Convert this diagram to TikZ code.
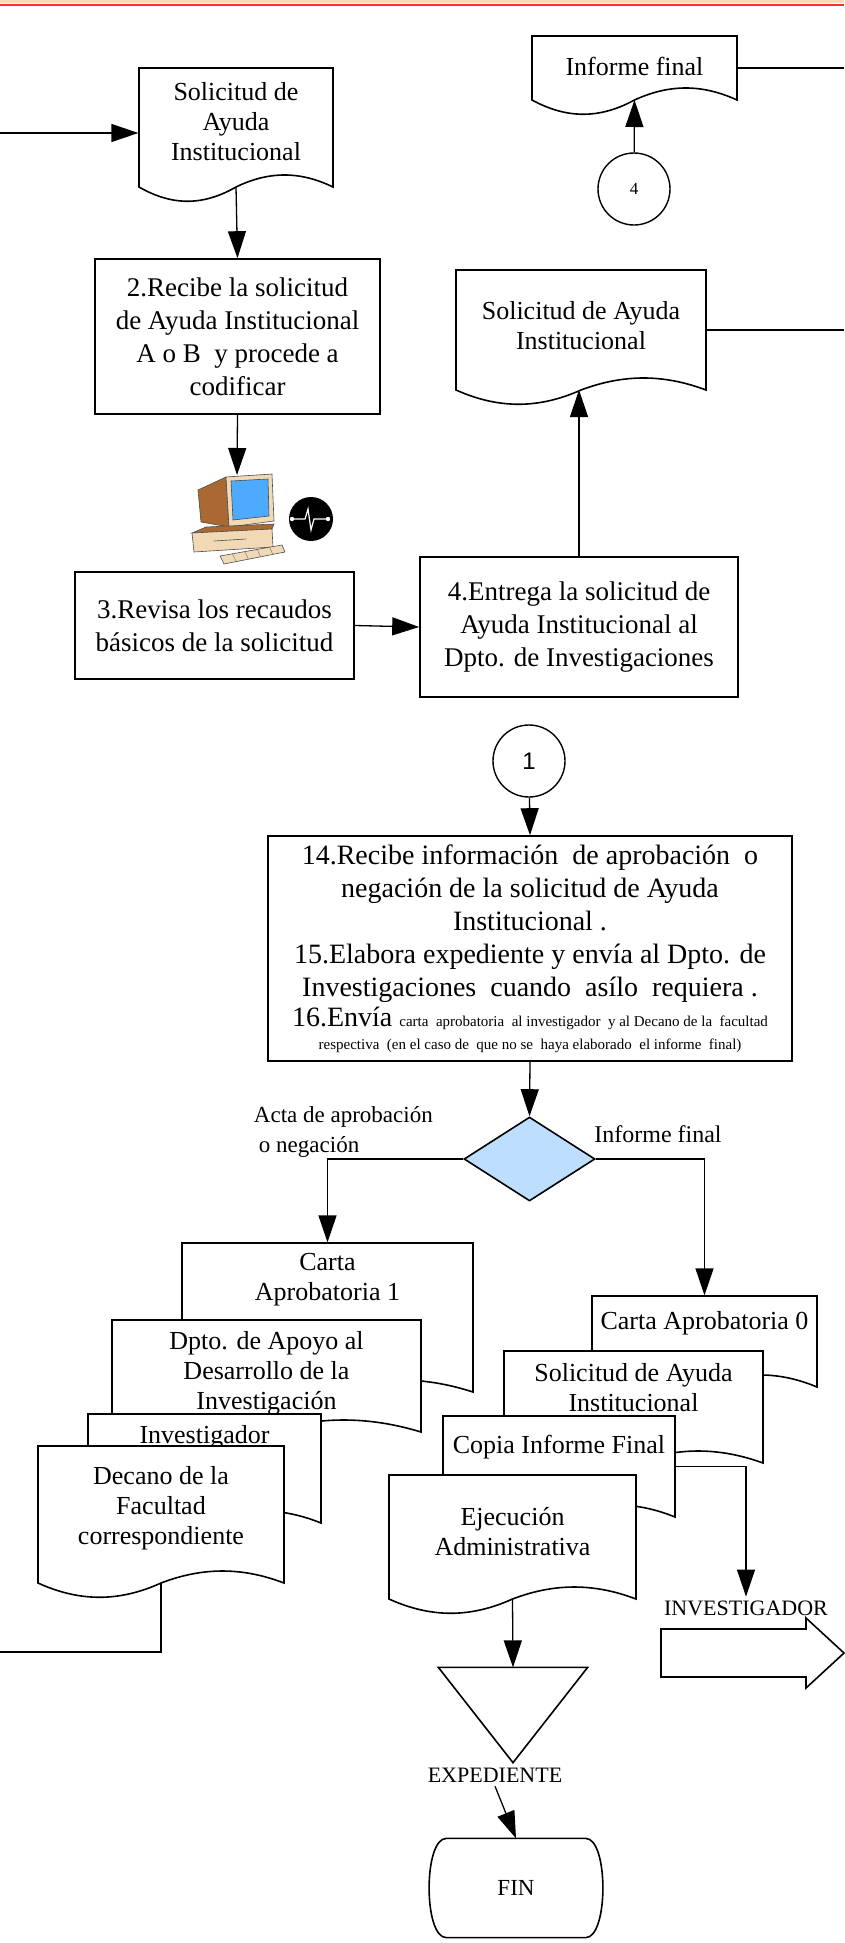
\documentclass[tikz,border=0pt]{standalone}
\usepackage{fontspec}
\setmainfont{Liberation Serif}
\newfontfamily\sansf{Liberation Sans}
\usetikzlibrary{arrows.meta,shapes.geometric,positioning,calc}

\definecolor{peach}{RGB}{255,218,178}
\definecolor{redline}{RGB}{240,50,50}
\definecolor{diafill}{RGB}{190,222,255}
\definecolor{pcbrown}{RGB}{170,105,50}
\definecolor{pcbeige}{RGB}{242,217,182}
\definecolor{pcblue}{RGB}{77,170,255}

\tikzset{
  box/.style={draw,line width=1.6pt,inner sep=0pt,align=center,font=\fontsize{27}{33}\selectfont},
  doctxt/.style={align=center,font=\fontsize{26}{30}\selectfont},
  docline/.style={draw,fill=white,line width=1.6pt},
  conn/.style={circle,draw,line width=1.4pt,minimum size=72pt,inner sep=0pt},
  >={Triangle[length=27pt,width=18pt]},
}

% document: name, x1, y1, x2, y2 (bottom of sides), text y, text
\newcommand{\docu}[7]{%
  \path[docline] (#2,#3) -- (#4,#3) -- (#4,#5)
    .. controls ({#4-0.17*(#4-#2)},{#5-16}) and ({#4-0.33*(#4-#2)},{#5-16}) .. ({(#2+#4)/2},#5)
    .. controls ({#2+0.33*(#4-#2)},{#5+19}) and ({#2+0.17*(#4-#2)},{#5+19}) .. (#2,#5) -- cycle;
  \node[inner sep=0pt,minimum width={(#4-#2)*1pt},minimum height={(#5-#3)*1pt}] (#1) at ({(#2+#4)/2},{(#3+#5)/2}) {};
  \coordinate (#1-b) at ({(#2+#4)/2},#5);
  \node[doctxt] (#1-t) at ({(#2+#4)/2},#6) {#7};
}

\begin{document}
\begin{tikzpicture}[x=1pt,y=-1pt,line width=1.3pt]
    \useasboundingbox (0,0) rectangle (844,1943);
    \fill[peach] (0,0) rectangle (844,3.5);
    \draw[redline,line width=2pt] (0,4.8) -- (844,4.8);

    % top part
    \docu{sol1}{139}{68}{333}{187}{122}{Solicitud de\\Ayuda\\Institucional}
    \docu{inf}{532}{36}{737}{100}{66}{Informe final}
    \docu{sol2}{456}{270}{706}{390}{326}{Solicitud de Ayuda\\Institucional}
    \node[conn,font=\fontsize{17}{20}\selectfont] (c4) at (634,189) {4};
    \node[box,minimum width=285pt,minimum height=155pt] (rec) at (237.5,336.5) {2.Recibe la solicitud\\de Ayuda Institucional\\A o B\ \ y procede a\\codificar};
    \node[box,minimum width=279pt,minimum height=107pt] (rev) at (214.5,625.5) {3.Revisa los recaudos\\básicos de la solicitud};
    \node[box,minimum width=318pt,minimum height=140pt] (ent) at (579,627) {4.Entrega la solicitud de\\Ayuda Institucional al\\Dpto. de Investigaciones};

    % computer
    \coordinate (pc) at (237,475);
    \filldraw[fill=pcbrown,draw=black!70,line width=0.6pt] (198,490) -- (226,477) -- (229,527) -- (201,522) -- cycle;
    \filldraw[fill=pcbeige,draw=black!70,line width=0.6pt] (226,477) -- (272,474) -- (274,521) -- (229,527) -- cycle;
    \filldraw[fill=pcblue,draw=black!70,line width=0.6pt] (231,481) -- (268,479) -- (269,516) -- (233,520) -- cycle;
    \filldraw[fill=pcbrown,draw=black!70,line width=0.6pt] (243,531) ellipse [x radius=14pt,y radius=4pt];
    \filldraw[fill=pcbrown,draw=black!70,line width=0.6pt] (192,533) -- (206,527) -- (274,524) -- (272,529) -- cycle;
    \filldraw[fill=pcbeige,draw=black!70,line width=0.6pt] (192,533) -- (272,529) -- (273,547) -- (194,552) -- cycle;
    \draw[black!70,line width=0.6pt] (214,541) -- (246,539);
    \filldraw[fill=pcbeige,draw=black!70,line width=0.6pt] (220,556) -- (282,545) -- (285,552) -- (224,564) -- cycle;
    \foreach \k in {0.2,0.4,0.6,0.8}
        \draw[black!50,line width=0.5pt] ($(220,556)!\k!(282,545)$) -- ($(224,564)!\k!(285,552)$);
    \fill (311,519) circle [radius=22pt];
    \draw[white,line width=1.2pt] (292,519) -- (305,519) -- (308,509) -- (311,530) -- (314,519) -- (328,519);
    \fill[white] (292,519) circle [radius=2.2pt] (328,519) circle [radius=2.2pt];

    % middle part
    \node[conn,font=\sansf\fontsize{24}{28}\selectfont] (c1) at (529,761) {1};
    \node[box,minimum width=524pt,minimum height=225pt,font=\fontsize{28}{33}\selectfont] (apr) at (530,948.5) {14.Recibe información\ \ de aprobación\ \ o\\negación de la solicitud de Ayuda\\Institucional .\\15.Elabora expediente y envía al Dpto. de\\Investigaciones\ \ cuando\ \ asílo\ \ requiera .\\[-3pt]16.Envía {\fontsize{15}{17}\selectfont carta\ \ aprobatoria\ \ al investigador\ \ y al Decano de la\ \ facultad}\\[-10pt]{\fontsize{15}{17}\selectfont respectiva\ \ (en el caso de\ \ que no se\ \ haya elaborado\ \ el informe\ \ final)}};
    \node[diamond,draw,fill=diafill,line width=1.6pt,minimum width=131pt,minimum height=84pt,inner sep=0pt] (dia) at (529.5,1159) {};
    \node[anchor=west,align=left,font=\fontsize{23}{30}\selectfont] (acta) at (250,1132) {Acta de aprobación\\\hspace{5pt}o negación};
    \node[font=\fontsize{24}{28}\selectfont] (inflab) at (658,1134) {Informe final};

    % bottom left documents
    \docu{ca1}{182}{1243}{473}{1392}{1280}{Carta\\Aprobatoria 1}
    \docu{dpto}{112}{1320}{421}{1432}{1373}{Dpto. de Apoyo al\\Desarrollo de la\\Investigación}
    \docu{inv}{88}{1414}{321}{1523}{1437}{Investigador}
    \docu{dcn}{38}{1446}{284}{1583}{1508}{Decano de la\\Facultad\\correspondiente}

    % bottom right documents
    \docu{ca0}{592}{1296}{817}{1387}{1323}{Carta Aprobatoria 0}
    \docu{sol3}{504}{1351}{763}{1463}{1388}{Solicitud de Ayuda\\Institucional}
    \docu{cop}{443}{1416}{675}{1517}{1447}{Copia Informe Final}
    \docu{eje}{389}{1475}{636}{1599}{1532}{Ejecución\\Administrativa}

    \node[inner sep=0pt,minimum width=148pt,minimum height=94pt] (tri) at (513,1715) {};
    \draw[line width=1.6pt] (tri.north west) -- (tri.north east) -- (tri.south) -- cycle;
    \node[font=\fontsize{22}{26}\selectfont] (exp) at (495,1775) {EXPEDIENTE};
    \node[inner sep=0pt,minimum width=172pt,minimum height=98pt,font=\fontsize{23}{26}\selectfont] (fin) at (516,1888) {FIN};
    \draw[line width=1.6pt] ($(fin.north west)+(17,0)$) -- ($(fin.north east)+(-17,0)$)
        .. controls ($(fin.north east)+(6,0)$) and ($(fin.south east)+(6,0)$) .. ($(fin.south east)+(-17,0)$)
        -- ($(fin.south west)+(17,0)$)
        .. controls ($(fin.south west)+(-6,0)$) and ($(fin.north west)+(-6,0)$) .. ($(fin.north west)+(17,0)$) -- cycle;
    \node[font=\fontsize{22}{26}\selectfont] (invlab) at (746,1608) {INVESTIGADOR};
    \draw[line width=1.6pt] (661,1629) -- (806,1629) -- (806,1618) -- (844,1653) -- (806,1688) -- (806,1677) -- (661,1677) -- cycle;

    % connectors
    \coordinate (inL) at (0,133);
    \coordinate (outR) at (844,0);
    \coordinate (outL) at (0,1652);
    \draw[->] (inL) -- (inL -| sol1.west);
    \draw[->] (sol1-b) -- (rec.north);
    \draw[->] (rec.south) -- (pc);
    \draw[->] (rev.east) -- (ent.west);
    \draw[->] (ent.north) -- (ent.north |- sol2-b);
    \draw (sol2.east) -- (sol2.east -| outR);
    \draw (inf.east) -- (inf.east -| outR);
    \draw[->] (c4) -- (inf-b);
    \draw[->] (c1) -- (apr.north);
    \draw[->] (apr.south) -- (dia.north);
    \draw[->] (dia.west) -| (ca1.north);
    \draw[->] (dia.east) -| (ca0.north);
    \draw (dcn-b) |- (outL);
    \draw[->] (cop.east) -| (invlab.north);
    \draw[->] (eje-b) -- (tri.north);
    \draw[->] (exp.south) -- (fin.north);
\end{tikzpicture}
\end{document}
